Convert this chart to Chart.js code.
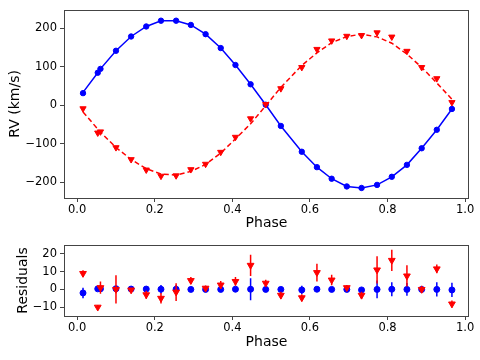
<!DOCTYPE html>
<html>
<head>
<meta charset="utf-8">
<script src="https://cdn.jsdelivr.net/npm/chart.js@4.4.0/dist/chart.umd.min.js"></script>
<style>
  body { margin: 0; background: #fff; }
  #rvChart { position: absolute; left: 0; top: 0; }
  #resChart { position: absolute; left: 0; top: 235px; }
</style>
</head>
<body>
<canvas id="rvChart" width="480" height="235"></canvas>
<canvas id="resChart" width="480" height="125"></canvas>
<script>
// Phases des mesures (communes aux deux composantes)
const phase = [0.015, 0.053, 0.060, 0.100, 0.139, 0.178, 0.216, 0.255, 0.293, 0.331, 0.370, 0.408, 0.447,
               0.486, 0.525, 0.579, 0.618, 0.656, 0.695, 0.733, 0.773, 0.811, 0.850, 0.888, 0.927, 0.966];

// Composante primaire (bleu)
const rvPrimary = [31, 84, 94, 141, 178, 204, 219, 219, 208, 184, 148, 104, 54,
                   1, -54, -121, -161, -191, -211, -215, -207, -186, -155, -112, -64, -10];
const modelPrimary = [33, 84, 94, 141, 178, 204, 219, 219, 208, 184, 148, 104, 54,
                      1, -54, -121, -161, -191, -211, -215, -207, -186, -155, -112, -64, -10];
const resPrimary = [-2.0, 0.3, 0.3, 0.4, 0.2, 0.2, 0.1, 0.1, 0.0, 0.0, 0.0, 0.1, 0.1,
                    0.0, 0.0, -0.3, 0.1, 0.0, 0.0, -0.3, 0.0, 0.1, 0.0, 0.0, 0.0, -0.3];
const errPrimary = [3.0, 1.2, 1.2, 1.0, 1.0, 1.0, 2.4, 2.4, 0.8, 0.8, 0.8, 0.8, 6.2,
                    0.8, 0.8, 2.3, 0.8, 0.8, 0.8, 0.8, 5.0, 4.0, 3.6, 1.0, 4.0, 4.0];

// Composante secondaire (rouge)
const rvSecondary = [-9, -72, -69, -110, -141, -168, -184, -183, -167, -153, -122, -83, -35,
                     2, 43, 98, 145, 167, 179, 181, 188, 177, 140, 98, 69, 7];
const modelSecondary = [-18, -62, -70, -110, -141, -165, -179, -181.5, -172, -154, -124.5, -87.5, -48.6,
                        -1.5, 46, 103, 135.5, 162, 178, 184, 177, 160.6, 132.4, 98, 57.4, 15.2];
const resSecondary = [9.0, -10.0, 1.0, 0.0, -0.3, -3.0, -5.0, -1.5, 5.0, 0.7, 2.5, 4.5, 13.6,
                      3.5, -3.3, -4.7, 9.5, 5.3, 1.0, -3.3, 11.0, 16.4, 7.6, 0.0, 11.6, -8.2];
const errSecondary = [1.8, 1.2, 3.5, 8.0, 1.0, 2.3, 3.0, 5.0, 2.0, 1.5, 2.3, 2.5, 6.0,
                      2.0, 2.0, 2.0, 5.0, 3.0, 1.5, 2.0, 7.7, 6.0, 6.0, 2.0, 2.5, 2.0];

// Graduations
const phaseTicks = [0.0, 0.2, 0.4, 0.6, 0.8, 1.0];
const rvTicks = [-200, -100, 0, 100, 200];
const resTicks = [-10, 0, 10, 20];

const BLUE = '#0000ff';
const RED = '#ff0000';
const FONT = 'DejaVu Sans';

const pts = (xs, ys) => xs.map((x, i) => ({x: x, y: ys[i]}));
const minusFmt = v => v < 0 ? '\u2212' + Math.abs(v) : String(v);

// Cadre complet autour de la zone de tracé
const frame = {
    id: 'frame',
    afterDraw(chart) {
        const {ctx, chartArea: a} = chart;
        ctx.save();
        ctx.strokeStyle = '#444';
        ctx.lineWidth = 1;
        ctx.strokeRect(Math.round(a.left) + 0.5, Math.round(a.top) + 0.5,
                       Math.round(a.right - a.left) - 1, Math.round(a.bottom - a.top));
        ctx.restore();
    }
};

// Barres d'erreur, dessinées juste avant les points du jeu concerné
const errorBars = {
    id: 'errorBars',
    beforeDatasetDraw(chart, args) {
        const ds = chart.data.datasets[args.index];
        if (!ds.errors) return;
        const {ctx, scales: {x, y}} = chart;
        ctx.save();
        ctx.strokeStyle = ds.borderColor;
        ctx.lineWidth = 1.5;
        ctx.beginPath();
        ds.data.forEach((p, i) => {
            const px = x.getPixelForValue(p.x);
            ctx.moveTo(px, y.getPixelForValue(p.y - ds.errors[i]));
            ctx.lineTo(px, y.getPixelForValue(p.y + ds.errors[i]));
        });
        ctx.stroke();
        ctx.restore();
    }
};

function makeOptions(cfg) {
    const tickGrid = {display: true, drawOnChartArea: false, drawTicks: true, tickLength: 4, color: '#444', lineWidth: 1};
    return {
        responsive: false,
        animation: false,
        layout: {padding: {left: 0, right: 11, top: 8, bottom: 0}},
        plugins: {legend: {display: false}, tooltip: {enabled: false}},
        scales: {
            x: {
                type: 'linear', min: -0.034, max: 1.010,
                afterBuildTicks: s => { s.ticks = phaseTicks.map(v => ({value: v})); },
                afterFit: s => { s.height = cfg.xHeight; },
                grid: tickGrid,
                border: {display: false},
                ticks: {color: '#000', font: {family: FONT, size: 11.5}, padding: 1, maxRotation: 0, autoSkip: false,
                        callback: v => v.toFixed(1)},
                title: {display: true, text: 'Phase', color: '#000', font: {family: FONT, size: 14},
                        padding: {top: 0, bottom: cfg.xTitlePad}}
            },
            y: {
                type: 'linear', min: cfg.yMin, max: cfg.yMax,
                afterBuildTicks: s => { s.ticks = cfg.yTicks.map(v => ({value: v})); },
                afterFit: s => { s.width = 64; },
                grid: tickGrid,
                border: {display: false},
                ticks: {color: '#000', font: {family: FONT, size: 11.5}, padding: 3, autoSkip: false, callback: minusFmt},
                title: {display: true, text: cfg.yTitle, color: '#000', font: {family: FONT, size: 14},
                        padding: {top: cfg.yTitlePad, bottom: 0}}
            }
        }
    };
}

// Graphique des vitesses radiales
new Chart(document.getElementById('rvChart'), {
    type: 'scatter',
    data: {
        datasets: [
            {data: pts(phase, rvSecondary), pointStyle: 'triangle', rotation: 180, pointRadius: 3.6,
             backgroundColor: RED, borderColor: RED, borderWidth: 1},
            {data: pts(phase, modelSecondary), showLine: true, pointRadius: 0, borderColor: RED,
             borderWidth: 1.5, borderDash: [5, 3]},
            {data: pts(phase, rvPrimary), pointStyle: 'circle', pointRadius: 2.7,
             backgroundColor: BLUE, borderColor: BLUE, borderWidth: 1},
            {data: pts(phase, modelPrimary), showLine: true, pointRadius: 0, borderColor: BLUE, borderWidth: 1.5}
        ]
    },
    options: makeOptions({yMin: -241, yMax: 247, yTicks: rvTicks, yTitle: 'RV (km/s)', yTitlePad: 7,
                          xHeight: 37, xTitlePad: 3}),
    plugins: [frame]
});

// Graphique des résidus
new Chart(document.getElementById('resChart'), {
    type: 'scatter',
    data: {
        datasets: [
            {data: pts(phase, resSecondary), errors: errSecondary, pointStyle: 'triangle', rotation: 180,
             pointRadius: 3.9, backgroundColor: RED, borderColor: RED, borderWidth: 1},
            {data: pts(phase, resPrimary), errors: errPrimary, pointStyle: 'circle', pointRadius: 3,
             backgroundColor: BLUE, borderColor: BLUE, borderWidth: 1}
        ]
    },
    options: makeOptions({yMin: -15, yMax: 25.1, yTicks: resTicks, yTitle: 'Residuals', yTitlePad: 15,
                          xHeight: 44, xTitlePad: 9}),
    plugins: [frame, errorBars]
});
</script>
</body>
</html>
